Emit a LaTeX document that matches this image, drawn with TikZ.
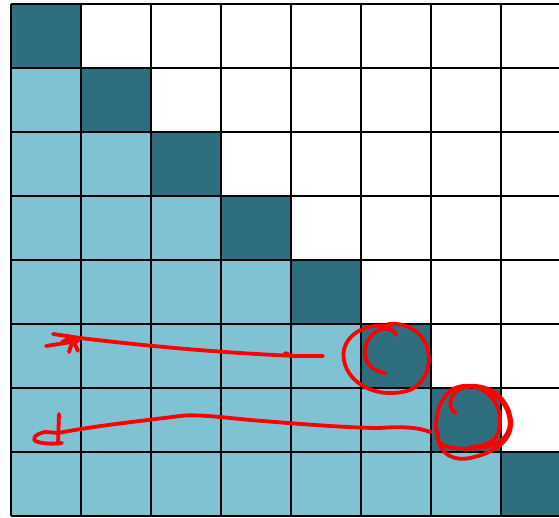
\documentclass[tikz,border=0pt]{standalone}
\definecolor{darkteal}{HTML}{2E6E7E}
\definecolor{lightteal}{HTML}{7FC2D3}
\definecolor{penred}{HTML}{FF0000}
\begin{document}
\begin{tikzpicture}[x=1pt,y=-1pt,
  gridline/.style={black,line width=2.8pt},
  pen/.style={penred,line width=3.8pt,line cap=round,line join=round}]
\useasboundingbox (0,0) rectangle (559,518);
\fill[white] (0,0) rectangle (559,518);
\clip (0,0) rectangle (559,518);
% cells
\foreach \r in {0,...,7}{
  \foreach \c in {0,...,7}{
    \pgfmathsetmacro{\xa}{11+70*\c}
    \pgfmathsetmacro{\ya}{4+64*\r}
    \ifnum\c=\r
      \fill[darkteal] (\xa,\ya) rectangle ++(70,64);
    \else\ifnum\c<\r
      \fill[lightteal] (\xa,\ya) rectangle ++(70,64);
    \fi\fi
  }
}
% grid lines
\foreach \c in {0,...,8}{
  \draw[gridline] (11+70*\c,4) -- (11+70*\c,516);
}
\foreach \r in {0,...,8}{
  \draw[gridline] (11,4+64*\r) -- (580,4+64*\r);
}
% upper arrow
\draw[pen] (323,356) -- (296,356) .. controls (250,354) and (180,350) .. (80,338);
\draw[pen] (285,353) -- (292,356);
\draw[pen] (80,338) -- (53,334);
\draw[pen] (78,341) -- (46,346);
\draw[pen] (69,352) -- (73,340) -- (78,351);
\draw[pen] (62,342) -- (70,338);
% first circle
\draw[pen] (385,373) .. controls (365,370) and (358,350) .. (372,335)
  .. controls (380,327) and (392,326) .. (396,335);
\draw[pen] (390,326) .. controls (360,322) and (340,340) .. (344,360)
  .. controls (348,385) and (380,400) .. (410,390)
  .. controls (432,380) and (434,350) .. (420,335)
  .. controls (410,325) and (398,323) .. (388,324);
% second circle
\draw[pen] (456,413) .. controls (448,410) and (448,395) .. (460,389)
  .. controls (475,382) and (500,392) .. (507,410)
  .. controls (515,430) and (505,445) .. (480,448)
  .. controls (460,450) and (440,448) .. (438,440)
  .. controls (432,420) and (440,395) .. (455,388)
  .. controls (475,380) and (500,395) .. (500,420)
  .. controls (500,440) and (490,446) .. (470,447);
\draw[pen] (438,432) .. controls (436,450) and (450,462) .. (470,458)
  .. controls (495,453) and (513,440) .. (511,420)
  .. controls (508,398) and (490,384) .. (468,386);
% lower arrow
\draw[pen] (430,432) .. controls (420,428) and (405,426) .. (380,428)
  .. controls (350,428) and (300,424) .. (250,420)
  .. controls (220,417) and (195,414) .. (180,416)
  .. controls (150,420) and (100,425) .. (58,433);
\draw[pen] (59,414) -- (58,444);
\draw[pen] (60,433) -- (45,432) .. controls (35,434) and (30,440) .. (38,442)
  .. controls (45,444) and (55,444) .. (62,443);
\end{tikzpicture}
\end{document}
